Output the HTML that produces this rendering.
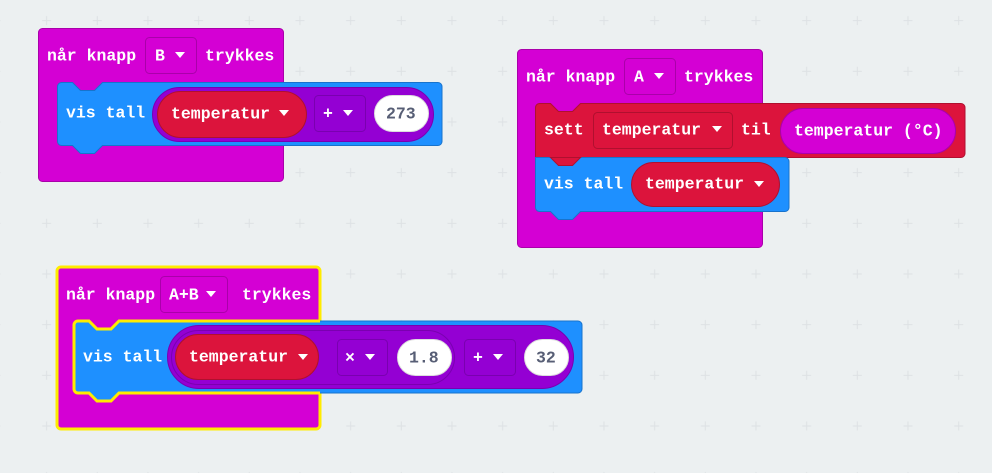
<!DOCTYPE html>
<html><head><meta charset="utf-8"><style>
html,body{margin:0;padding:0;background:#ecf0f1;}
svg{display:block}
text{font-family:"Liberation Mono",monospace;font-weight:bold;font-size:16.5px;fill:#fff;dominant-baseline:central;}
.d{fill:#575e75}
</style></head><body>
<svg width="992" height="473" viewBox="0 0 992 473" xmlns="http://www.w3.org/2000/svg">
<defs>
<pattern id="g" x="21" y="-4.7" width="50.67" height="50.67" patternUnits="userSpaceOnUse">
<path d="M21.1 25.3h9M25.6 20.8v9" stroke="#dde1e4" stroke-width="1"/>
</pattern>
</defs>
<rect width="992" height="473" fill="#ecf0f1"/>
<rect width="992" height="473" fill="url(#g)"/>

<!-- Block B -->
<rect x="38.5" y="28.5" width="245" height="153" rx="4" fill="#d400d4" stroke="#aa00aa"/>
<rect x="145.5" y="37.5" width="51" height="36" rx="4" fill="#d400d4" stroke="#aa00aa"/>
<text x="47" y="56">når knapp</text>
<text x="155" y="56">B</text>
<path d="M175 52h10l-5 6z" fill="#fff"/>
<text x="205" y="56">trykkes</text>
<path d="M57.5 86.5a4 4 0 0 1 4-4h11l8 8h14l8-8H438a4 4 0 0 1 4 4v55a4 4 0 0 1-4 4H102.5l-8 8h-14l-8-8h-11a4 4 0 0 1-4-4z" fill="#1e90ff" stroke="#1873cc"/>
<text x="66" y="113">vis tall</text>
<rect x="152.5" y="87.5" width="281" height="54" rx="27" fill="#9400d3" stroke="#7a00b0"/>
<rect x="157.5" y="91.5" width="149" height="46" rx="23" fill="#dc143c" stroke="#b0102f"/>
<text x="171" y="114">temperatur</text>
<path d="M279 110h10l-5 6z" fill="#fff"/>
<rect x="314.5" y="95.5" width="51" height="36" rx="4" fill="#9400d3" stroke="#7a00b0"/>
<text x="323" y="114">+</text>
<path d="M343 110h10l-5 6z" fill="#fff"/>
<rect x="374.5" y="95.5" width="54" height="36" rx="18" fill="#fff" stroke="#ddd"/>
<text class="d" x="386" y="114">273</text>

<!-- Block A -->
<rect x="517.5" y="49.5" width="245" height="198" rx="4" fill="#d400d4" stroke="#aa00aa"/>
<rect x="624.5" y="58.5" width="51" height="36" rx="4" fill="#d400d4" stroke="#aa00aa"/>
<text x="526" y="77">når knapp</text>
<text x="634" y="77">A</text>
<path d="M654 73h10l-5 6z" fill="#fff"/>
<text x="684" y="77">trykkes</text>
<path d="M535.5 107.5a4 4 0 0 1 4-4h11l8 8h14l8-8H961a4 4 0 0 1 4 4v46a4 4 0 0 1-4 4H580.5l-8 8h-14l-8-8h-15z" fill="#dc143c" stroke="#b0102f"/>
<text x="544" y="130">sett</text>
<rect x="593.5" y="112.5" width="139" height="36" rx="4" fill="#dc143c" stroke="#b0102f"/>
<text x="602" y="130">temperatur</text>
<path d="M712 126h10l-5 6z" fill="#fff"/>
<text x="741" y="130">til</text>
<rect x="780.5" y="108.5" width="175" height="45" rx="22.5" fill="#d400d4" stroke="#aa00aa"/>
<text x="794" y="131">temperatur (°C)</text>
<path d="M535.5 157.5H785a4 4 0 0 1 4 4v46a4 4 0 0 1-4 4H580.5l-8 8h-14l-8-8h-11a4 4 0 0 1-4-4z" fill="#1e90ff" stroke="#1873cc"/>
<path d="M550.5 157.5l8 8h14l8-8z" fill="#dc143c" stroke="#b0102f"/>
<text x="544" y="184">vis tall</text>
<rect x="631.5" y="162.5" width="148" height="44" rx="22" fill="#dc143c" stroke="#b0102f"/>
<text x="645" y="184">temperatur</text>
<path d="M754 181h10l-5 6z" fill="#fff"/>

<!-- Block A+B -->
<rect x="57" y="267" width="263" height="162" rx="4" fill="#d400d4" stroke="#ffeb00" stroke-width="3"/>
<rect x="160.5" y="276.5" width="67" height="36" rx="4" fill="#d400d4" stroke="#aa00aa"/>
<text x="66" y="295">når knapp</text>
<text x="169" y="295">A+B</text>
<path d="M206 291h10l-5 6z" fill="#fff"/>
<text x="242" y="295">trykkes</text>
<path d="M74 325a4 4 0 0 1 4-4h11l8 8h14l8-8H578a4 4 0 0 1 4 4v64a4 4 0 0 1-4 4H119l-8 8h-14l-8-8h-11a4 4 0 0 1-4-4z" fill="#1e90ff" stroke="#1873cc"/>
<path d="M320 321H119l-8 8h-14l-8-8H78a4 4 0 0 0-4 4v64a4 4 0 0 0 4 4h11l8 8h14l8-8H320" fill="none" stroke="#ffeb00" stroke-width="3"/>
<text x="83" y="357">vis tall</text>
<rect x="167.5" y="325.5" width="406" height="63" rx="31.5" fill="#9400d3" stroke="#7a00b0"/>
<rect x="171.5" y="330.5" width="283" height="54" rx="27" fill="#9400d3" stroke="#7a00b0"/>
<rect x="175.5" y="334.5" width="143" height="45" rx="22.5" fill="#dc143c" stroke="#b0102f"/>
<text x="189" y="357">temperatur</text>
<path d="M298 354h10l-5 6z" fill="#fff"/>
<rect x="337.5" y="339.5" width="50" height="36" rx="4" fill="#9400d3" stroke="#7a00b0"/>
<text x="345" y="358">×</text>
<path d="M365 354h10l-5 6z" fill="#fff"/>
<rect x="397.5" y="339.5" width="54" height="36" rx="18" fill="#fff" stroke="#ddd"/>
<text class="d" x="409" y="358">1.8</text>
<rect x="464.5" y="339.5" width="51" height="36" rx="4" fill="#9400d3" stroke="#7a00b0"/>
<text x="473" y="358">+</text>
<path d="M493 354h10l-5 6z" fill="#fff"/>
<rect x="524.5" y="339.5" width="44" height="36" rx="18" fill="#fff" stroke="#ddd"/>
<text class="d" x="536" y="358">32</text>
</svg>
</body></html>
